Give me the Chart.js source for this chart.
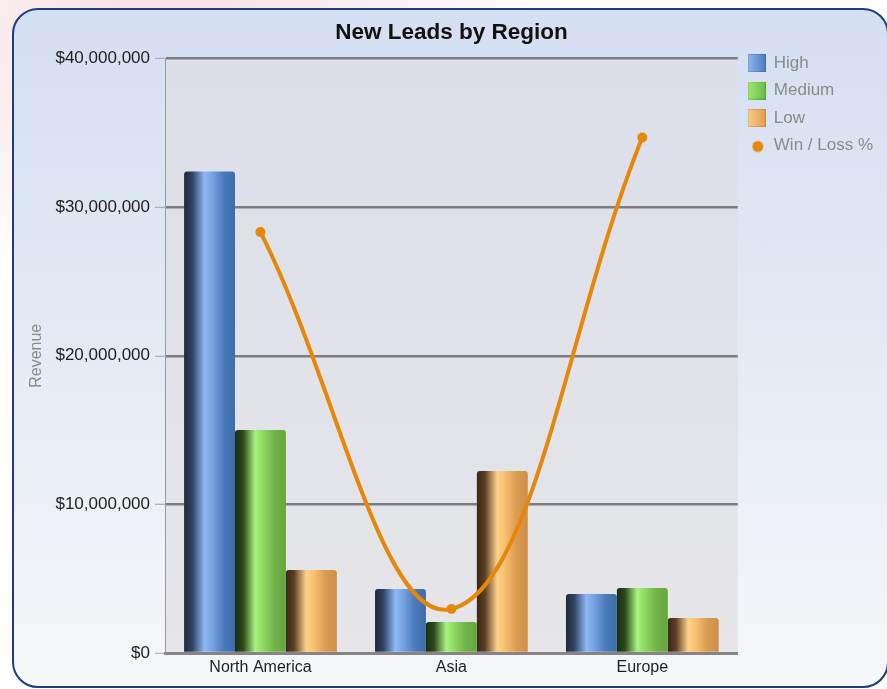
<!DOCTYPE html>
<html>
<head>
<meta charset="utf-8">
<script src="https://cdn.jsdelivr.net/npm/chart.js@4/dist/chart.umd.min.js"></script>
<style>
  html, body { margin: 0; padding: 0; width: 887px; height: 689px; overflow: hidden; }
  body {
    background:
      radial-gradient(ellipse 420px 260px at 170px 40px, rgba(238,196,200,0.55), rgba(255,255,255,0) 100%),
      #ffffff;
    position: relative;
  }
  #card {
    position: absolute; left: 12px; top: 8px; width: 877px; height: 680px;
    box-sizing: border-box; border: 2.5px solid #1f3d7a; border-radius: 26px;
    background: linear-gradient(to bottom, #d5dff2 0%, #e3e9f4 45%, #f6f7f9 100%);
  }
  #wrap { position: absolute; left: 0; top: 0; width: 887px; height: 689px; }
</style>
</head>
<body>
<div id="card"></div>
<div id="wrap"><canvas id="c" width="887" height="689"></canvas></div>
<script>
// ---- data ----
const categories = ['North America', 'Asia', 'Europe'];
const highValues = [32400000, 4300000, 3970000];
const mediumValues = [15000000, 2080000, 4370000];
const lowValues = [5580000, 12240000, 2350000];
const winLossPct = [70.8, 7.4, 86.7];
const yTicks = [0, 10000000, 20000000, 30000000, 40000000];
const seriesNames = ['High', 'Medium', 'Low', 'Win / Loss %'];

// ---- styling ----
const FONT = "'Liberation Sans', Arial, Helvetica, sans-serif";
Chart.defaults.font.family = FONT;
const barStops = [
  [[0, '#1e2a3e'], [0.16, '#2e4262'], [0.4, '#8db8f3'], [0.54, '#79a5e3'], [0.78, '#4a7abb'], [1, '#3e6ca9']],
  [[0, '#1a2e10'], [0.16, '#2b4a1b'], [0.4, '#a9f282'], [0.54, '#8fdb63'], [0.78, '#71b14a'], [1, '#66a63f']],
  [[0, '#3b2816'], [0.16, '#5c4026'], [0.4, '#ffd28b'], [0.54, '#f8c171'], [0.78, '#d99a52'], [1, '#cf8f47']]
];
const legendStops = [
  ['#8fb7ef', '#4a7bc2'],
  ['#9eea6e', '#6bbb43'],
  ['#ffcc84', '#de9f4f']
];
const LINE_COLOR = '#e5870a';

function legendImage(i) {
  const cv = document.createElement('canvas');
  cv.width = 18; cv.height = 18;
  const g = cv.getContext('2d');
  if (i < 3) {
    const gr = g.createLinearGradient(0, 0, 18, 0);
    gr.addColorStop(0, legendStops[i][0]);
    gr.addColorStop(1, legendStops[i][1]);
    g.fillStyle = gr;
    g.fillRect(0, 0, 18, 18);
    g.strokeStyle = 'rgba(0,0,0,0.12)';
    g.lineWidth = 1;
    g.strokeRect(0.5, 0.5, 17, 17);
  } else {
    g.fillStyle = LINE_COLOR;
    g.beginPath();
    g.arc(10, 10, 5.5, 0, Math.PI * 2);
    g.fill();
  }
  return cv;
}
const legendImages = seriesNames.map((n, i) => legendImage(i));

const plotBg = {
  id: 'plotBg',
  beforeDraw(chart) {
    const {ctx, chartArea: a} = chart;
    const gr = ctx.createLinearGradient(0, a.top, 0, a.bottom);
    gr.addColorStop(0, '#dcdfe9');
    gr.addColorStop(1, '#e6e6e9');
    ctx.save();
    ctx.fillStyle = gr;
    ctx.fillRect(a.left, a.top, a.right - a.left, a.bottom - a.top);
    ctx.restore();
  },
  beforeDatasetsDraw(chart) {
    const ctx = chart.ctx;
    for (let d = 0; d < 3; d++) {
      const meta = chart.getDatasetMeta(d);
      meta.data.forEach(el => {
        const x0 = el.x - el.width / 2, x1 = el.x + el.width / 2;
        const gr = ctx.createLinearGradient(x0, 0, x1, 0);
        barStops[d].forEach(s => gr.addColorStop(s[0], s[1]));
        el.options.backgroundColor = gr;
      });
    }
  }
};

const barBase = {
  type: 'bar',
  yAxisID: 'y',
  order: 1,
  borderWidth: 0,
  borderRadius: {topLeft: 3, topRight: 3, bottomLeft: 0, bottomRight: 0},
  borderSkipped: 'start',
  categoryPercentage: 0.8,
  barPercentage: 1.0
};

const chart = new Chart(document.getElementById('c'), {
  data: {
    labels: categories,
    datasets: [
      Object.assign({}, barBase, {label: seriesNames[0], data: highValues, backgroundColor: c => '#4a7bc2'}),
      Object.assign({}, barBase, {label: seriesNames[1], data: mediumValues, backgroundColor: c => '#6bbb43'}),
      Object.assign({}, barBase, {label: seriesNames[2], data: lowValues, backgroundColor: c => '#de9f4f'}),
      {
        type: 'line', label: seriesNames[3], data: winLossPct, yAxisID: 'y1', order: 0,
        borderColor: LINE_COLOR, backgroundColor: LINE_COLOR, borderWidth: 4,
        tension: 0.4, pointRadius: 5, pointBorderWidth: 0, pointBackgroundColor: LINE_COLOR,
        fill: false
      }
    ]
  },
  options: {
    responsive: false,
    animation: false,
    layout: { padding: { top: 10, left: 20, right: 4, bottom: 10 } },
    plugins: {
      tooltip: { enabled: false },
      title: {
        display: true, text: 'New Leads by Region', fullSize: false,
        color: '#111111', font: { size: 22.5, weight: 'bold', family: FONT },
        padding: { top: 9, bottom: 12.5 }
      },
      legend: {
        position: 'right', align: 'start',
        title: { display: true, text: '', font: { size: 10 }, padding: { top: 11, bottom: 11 } },
        labels: {
          usePointStyle: true, boxWidth: 18, boxHeight: 18, padding: 10.5,
          color: '#8a8a8a', font: { size: 17, family: FONT },
          generateLabels(ch) {
            return ch.data.datasets.map((ds, i) => ({
              text: ds.label, datasetIndex: i, pointStyle: legendImages[i],
              fillStyle: 'transparent', strokeStyle: 'transparent', lineWidth: 0,
              fontColor: '#8a8a8a', hidden: false
            }));
          }
        }
      }
    },
    scales: {
      x: {
        type: 'category',
        offset: true,
        grid: { display: false, drawTicks: false },
        border: { display: true, color: '#858585', width: 3 },
        ticks: { color: '#1e1e1e', font: { size: 16, family: FONT }, padding: 5 },
        afterFit(s) { s.height = 26; }
      },
      y: {
        type: 'linear', position: 'left', min: 0, max: 40000000,
        afterBuildTicks(s) { s.ticks = yTicks.map(v => ({ value: v })); },
        grid: { color: '#7d7d7d', lineWidth: 2.5, tickColor: '#a0a0a0', tickWidth: 1, tickLength: 10 },
        border: { display: true, color: '#9a9a9a', width: 1 },
        ticks: {
          color: '#1e1e1e', font: { size: 17, family: FONT }, padding: 5,
          callback: v => '$' + Number(v).toLocaleString('en-US')
        },
        title: {
          display: true, text: 'Revenue', color: '#8a8a8a',
          font: { size: 16, family: FONT }, padding: { top: 7, bottom: 4 }
        },
        afterFit(s) { s.width = 145; }
      },
      y1: {
        type: 'linear', display: false, min: 0, max: 100
      }
    }
  },
  plugins: [plotBg]
});
</script>
</body>
</html>
